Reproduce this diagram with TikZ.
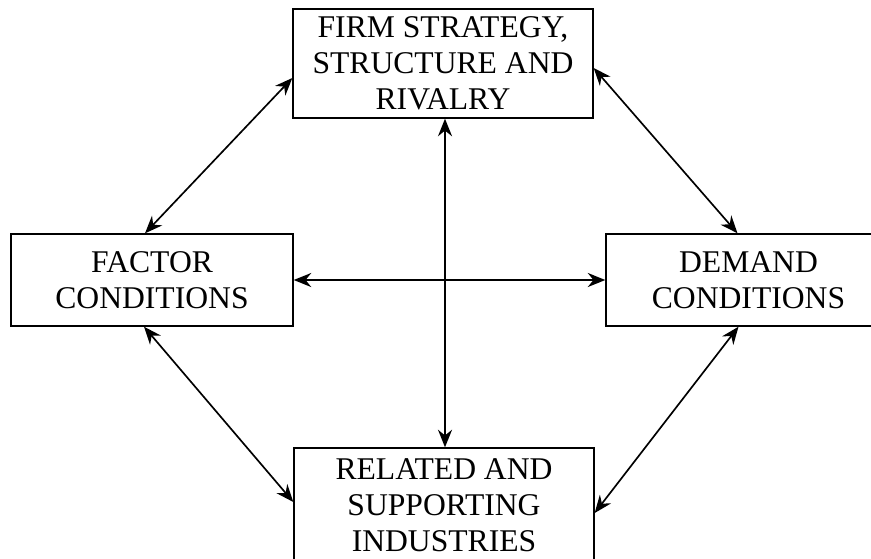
\documentclass[tikz,border=0pt]{standalone}
\usepackage{fontspec}
\setmainfont{Liberation Serif}
\usetikzlibrary{arrows.meta}

\begin{document}
\begin{tikzpicture}[x=0.02cm, y=-0.02cm, >={Stealth[length=10pt,width=8pt]},
  box/.style={draw, line width=0.8pt, align=center, inner sep=0pt, font=\fontsize{18}{20.5}\selectfont},
  link/.style={<->, line width=0.95pt}]
\useasboundingbox (0,0) rectangle (871,558);
%\draw[very thin,color=gray] (0,0) grid[step=50] (871,558);
\node[box, minimum width=6cm, minimum height=2.18cm] (firm) at (443,63.5) {FIRM STRATEGY,\\ STRUCTURE AND\\ RIVALRY};
\node[box, minimum width=5.64cm, minimum height=1.84cm] (factor) at (152,280) {FACTOR\\ CONDITIONS};
\node[box, minimum width=5.7cm, minimum height=1.84cm] (demand) at (748.5,280) {DEMAND\\ CONDITIONS};
\node[box, minimum width=6cm, minimum height=2.3cm] (related) at (444,505.5) {RELATED AND\\ SUPPORTING\\ INDUSTRIES};
\draw[link] ([xshift=-0.14cm]factor.north) -- ([yshift=-0.29cm]firm.west);
\draw[link] ([yshift=-0.09cm]firm.east) -- ([xshift=-0.22cm]demand.north);
\draw[link] ([xshift=-0.16cm]factor.south) -- ([yshift=0.07cm]related.west);
\draw[link] ([xshift=-0.2cm]demand.south) -- ([yshift=-0.15cm]related.east);
\draw[link] (factor.east) -- (demand.west);
\draw[link] ([xshift=0.04cm]firm.south) -- ([xshift=0.02cm]related.north);
\end{tikzpicture}
\end{document}
